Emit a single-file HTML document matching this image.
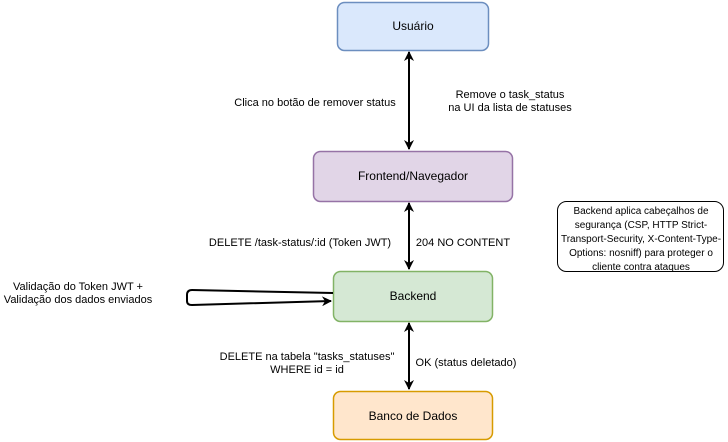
<!DOCTYPE html>
<html><head><style>body{margin:0;background:#fff}svg{display:block}text{font-family:"Liberation Sans",sans-serif;font-size:11px;fill:#000}text.n{font-size:12px}text.s{font-size:10px}</style></head>
<body>
<svg width="728" height="442" viewBox="0 0 728 442" xmlns="http://www.w3.org/2000/svg">
<defs><marker id="a" markerWidth="10" markerHeight="10" refX="9" refY="5" orient="auto-start-reverse" markerUnits="userSpaceOnUse"><path d="M0,0 L10,5 L0,10 L3,5 Z" fill="#000"/></marker></defs>
<rect x="337.5" y="2.5" width="151" height="48" rx="7" fill="#dae8fc" stroke="#6c8ebf" stroke-width="1.5"/>
<text class="n" x="413" y="30" text-anchor="middle">Usuário</text>
<rect x="313.5" y="151.5" width="199" height="50" rx="7" fill="#e1d5e7" stroke="#9673a6" stroke-width="1.5"/>
<text class="n" x="413" y="180" text-anchor="middle">Frontend/Navegador</text>
<rect x="333.5" y="271.5" width="159" height="50" rx="7" fill="#d5e8d4" stroke="#82b366" stroke-width="1.5"/>
<text class="n" x="413" y="300" text-anchor="middle">Backend</text>
<rect x="333.5" y="391.5" width="159" height="48" rx="7" fill="#ffe6cc" stroke="#d79b00" stroke-width="1.5"/>
<text class="n" x="413" y="420" text-anchor="middle">Banco de Dados</text>
<g stroke="#000" stroke-width="2" fill="none">
<line x1="409" y1="52" x2="409" y2="149" marker-start="url(#a)" marker-end="url(#a)"/>
<line x1="409" y1="203" x2="409" y2="269" marker-start="url(#a)" marker-end="url(#a)"/>
<line x1="409" y1="323" x2="409" y2="389" marker-start="url(#a)" marker-end="url(#a)"/>
<path d="M333,293 L192,290 Q187,290 187,295 L187,301 Q187,305 192,305 L331,301" marker-end="url(#a)"/>
</g>
<text x="315" y="106" text-anchor="middle">Clica no botão de remover status</text>
<text x="510" y="98" text-anchor="middle">Remove o task_status</text>
<text x="510" y="111" text-anchor="middle">na UI da lista de statuses</text>
<text x="300" y="246" text-anchor="middle">DELETE /task-status/:id (Token JWT)</text>
<text x="463" y="246" text-anchor="middle">204 NO CONTENT</text>
<text x="78" y="290" text-anchor="middle">Validação do Token JWT +</text>
<text x="78" y="303" text-anchor="middle">Validação dos dados enviados</text>
<text x="307" y="360" text-anchor="middle">DELETE na tabela "tasks_statuses"</text>
<text x="307" y="373" text-anchor="middle">WHERE id = id</text>
<text x="466" y="366" text-anchor="middle">OK (status deletado)</text>
<rect x="557.5" y="201.5" width="166" height="70" rx="9" fill="#fff" stroke="#000" stroke-width="1"/>
<text class="s" x="641" y="214" text-anchor="middle">Backend aplica cabeçalhos de</text>
<text class="s" x="641" y="228" text-anchor="middle">segurança (CSP, HTTP Strict-</text>
<text class="s" x="641" y="242" text-anchor="middle">Transport-Security, X-Content-Type-</text>
<text class="s" x="641" y="256" text-anchor="middle">Options: nosniff) para proteger o</text>
<text class="s" x="641" y="270" text-anchor="middle">cliente contra ataques</text>
</svg>
</body></html>
